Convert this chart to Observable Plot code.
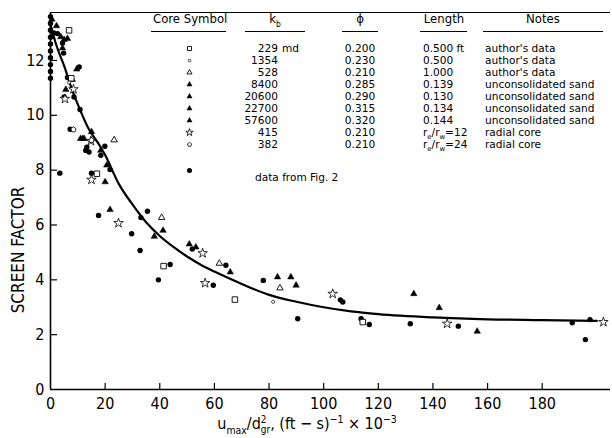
<!DOCTYPE html>
<html><head><meta charset="utf-8">
<script src="https://cdn.jsdelivr.net/npm/d3@7"></script>
<script src="https://cdn.jsdelivr.net/npm/@observablehq/plot@0.6"></script>
<style>
body{margin:0;background:#fff;}
#wrap{position:relative;width:612px;height:438px;font-family:"Liberation Sans Narrow","DejaVu Sans Condensed","Liberation Sans",sans-serif;color:#000;}
#wrap svg{position:absolute;left:0;top:0;}
.t{position:absolute;white-space:nowrap;line-height:1;}
.hd{font-size:13px;}
.col{position:absolute;white-space:nowrap;font-size:10.4px;line-height:12px;transform:scaleX(1.13);transform-origin:left top;}
.ul{position:absolute;height:0;border-top:1.3px solid #000;}
sub,sup{font-size:65%;line-height:0;}
.stk{display:inline-block;vertical-align:middle;line-height:1;font-size:62%;text-align:left;}
</style></head><body><div id="wrap"></div>
<script>
// ---------- axes ----------
const xDomain = [0, 205];
const yDomain = [0, 13.75];
const xTicks = [0, 20, 40, 60, 80, 100, 120, 140, 160, 180];
const yTicks = [0, 2, 4, 6, 8, 10, 12];

// ---------- fitted curve ----------
const curveX = [0, 2, 5, 8, 10, 14, 18, 20, 25, 30, 35, 40, 45, 50, 55, 60, 70, 80, 90, 100, 110, 120, 140, 160, 180, 200];
const curveY = [13.3, 12.6, 11.8, 10.9, 10.4, 9.5, 8.9, 8.55, 7.5, 6.75, 6.1, 5.6, 5.2, 4.85, 4.55, 4.3, 3.85, 3.45, 3.2, 3.0, 2.85, 2.75, 2.63, 2.56, 2.53, 2.5];

// ---------- data points by core ----------
const sq229X = [6.8, 7.6, 17, 41.4, 67.5, 114.3];
const sq229Y = [13.1, 11.35, 7.87, 4.5, 3.28, 2.46];
const c1354X = [6.8, 81.5];
const c1354Y = [11.2, 3.2];
const tri528X = [23.3, 40.7, 61.8, 84];
const tri528Y = [9.1, 6.27, 4.6, 3.7];
const sandX = [0.5, 2.2, 3.8, 5, 6.2, 4.4, 9.6, 5.6, 8, 11, 11.8, 12.3, 15, 18.4, 20.6, 20, 21.8, 41.2, 38, 50.8, 53.2, 65.8, 83.1, 88, 89.9, 133, 142.3, 156.2];
const sandY = [13.5, 13.26, 12.86, 12.76, 12.8, 12.45, 11.68, 10.94, 11.3, 9.15, 9.15, 9.15, 9.4, 8.72, 8.18, 7.57, 6.56, 5.8, 5.58, 5.3, 5.19, 4.28, 4.1, 4.1, 3.8, 3.49, 2.98, 2.12];
const star415X = [5.3, 8.4, 14.8, 15, 24.9, 55.7, 56.6, 103.3, 145.2, 202.4];
const star415Y = [10.6, 10.95, 9.06, 7.65, 6.07, 4.97, 3.88, 3.49, 2.4, 2.46];
const r382X = [8.4, 15];
const r382Y = [9.48, 9.09];
const fig2X = [0, 0, 0, 0, 0, 0, 0, 0, 0, 0, 1.2, 2.6, 4.4, 4.8, 10.5, 6.2, 5, 8.6, 10.8, 7.2, 13.3, 19.9, 12.9, 14.1, 18.4, 21.8, 3.4, 15, 17.6, 35.5, 33.1, 29.7, 32.8, 51.9, 64.2, 43.8, 39.5, 59.6, 77.9, 90.5, 106.1, 107, 113.7, 116.7, 131.7, 149.3, 191, 195.8, 197.5];
const fig2Y = [13.6, 13.35, 13.1, 12.85, 12.6, 12.35, 12.1, 11.85, 11.6, 11.35, 13.0, 12.98, 12.64, 12.27, 11.76, 11.38, 10.67, 10.67, 10.21, 9.49, 8.84, 8.87, 8.72, 8.66, 8.54, 8.02, 7.89, 7.89, 6.35, 6.5, 6.27, 5.68, 5.07, 5.12, 4.53, 4.56, 4.0, 3.8, 3.98, 2.58, 3.27, 3.19, 2.58, 2.37, 2.4, 2.31, 2.43, 1.82, 2.55];

// ---------- table ----------
const kbVals = ["229", "1354", "528", "8400", "20600", "22700", "57600", "415", "382"];
const phiVals = ["0.200", "0.230", "0.210", "0.285", "0.290", "0.315", "0.320", "0.210", "0.210"];
const lengthVals = ["0.500 ft", "0.500", "1.000", "0.139", "0.130", "0.134", "0.144", "r<sub>e</sub>/r<sub>w</sub>=12", "r<sub>e</sub>/r<sub>w</sub>=24"];
const notesVals = ["author's data", "author's data", "author's data", "unconsolidated sand", "unconsolidated sand", "unconsolidated sand", "unconsolidated sand", "radial core", "radial core"];
const symbolKeys = ["sq", "c1354", "triOpen", "tri", "tri", "tri", "tri", "star", "pent"];

// ---------- layout ----------
const W = 612, H = 438, mL = 50, mR = 2, mT = 12, mB = 49;
const plotW = W - mL - mR, plotH = H - mT - mB;
const rowTop = 48, rowStep = 12.0;
const symColX = 189;
const fig2LegY = 170;
const FONT = '"Liberation Sans Narrow","DejaVu Sans Condensed","Liberation Sans",sans-serif';

const pentagon = {
  draw(ctx, size) {
    const r = Math.sqrt(size / 2.3776);
    for (let i = 0; i < 5; i++) {
      const a = -Math.PI / 2 + i * 2 * Math.PI / 5;
      const px = r * Math.cos(a), py = r * Math.sin(a);
      i ? ctx.lineTo(px, py) : ctx.moveTo(px, py);
    }
    ctx.closePath();
  }
};

const styles = {
  sq: {symbol: "square", fill: "white", stroke: "black", strokeWidth: 0.9},
  c1354: {symbol: "circle", fill: "white", stroke: "black", strokeWidth: 0.7},
  triOpen: {symbol: "triangle", fill: "white", stroke: "black", strokeWidth: 0.9},
  tri: {symbol: "triangle", fill: "black", stroke: "black", strokeWidth: 0.5},
  star: {symbol: "star", fill: "white", stroke: "black", strokeWidth: 0.8},
  pent: {symbol: pentagon, fill: "white", stroke: "black", strokeWidth: 0.8},
  fig2: {symbol: "circle", fill: "black", stroke: "none"}
};
const dataR = {sq: 3.1, c1354: 1.6, triOpen: 2.4, tri: 2.4, star: 3.0, pent: 2.4, fig2: 2.7};
const legR = {sq: 2.3, c1354: 1.3, triOpen: 1.9, tri: 1.9, star: 2.3, pent: 1.9, fig2: 2.5};

const pts = (xs, ys) => xs.map((x, i) => ({x, y: ys[i]}));
const curve = pts(curveX, curveY);

const legendMarks = symbolKeys.map((k, i) =>
  Plot.dot([0], {frameAnchor: "top-left", dx: symColX - mL, dy: rowTop + i * rowStep - mT, r: legR[k], ...styles[k]}));
legendMarks.push(Plot.dot([0], {frameAnchor: "top-left", dx: symColX - mL, dy: fig2LegY - mT, r: legR.fig2, ...styles.fig2}));

const chart = Plot.plot({
  width: W, height: H, marginLeft: mL, marginRight: mR, marginTop: mT, marginBottom: mB,
  style: {fontFamily: FONT, fontSize: "16px", background: "transparent", overflow: "visible"},
  x: {domain: xDomain, axis: null},
  y: {domain: yDomain, axis: null},
  marks: [
    Plot.ruleY([yDomain[1]], {strokeWidth: 1.2}),
    Plot.ruleX([0], {strokeWidth: 1.6}),
    Plot.ruleY([0], {strokeWidth: 1.6}),
    Plot.tickX(xTicks.filter(d => d > 0), {x: d => d, insetTop: plotH - 6, strokeWidth: 1.2}),
    Plot.tickY(yTicks.filter(d => d > 0), {y: d => d, insetRight: plotW - 7, strokeWidth: 1.2}),
    Plot.axisX(xTicks, {tickSize: 0, tickPadding: 8, fontSize: 16, label: null}),
    Plot.axisY(yTicks, {tickSize: 0, tickPadding: 6, fontSize: 16, label: null}),
    Plot.line(curve, {x: "x", y: "y", curve: "monotone-x", strokeWidth: 2.2}),
    Plot.dot(pts(fig2X, fig2Y), {x: "x", y: "y", r: dataR.fig2, ...styles.fig2}),
    Plot.dot(pts(sandX, sandY), {x: "x", y: "y", r: dataR.tri, ...styles.tri}),
    Plot.dot(pts(sq229X, sq229Y), {x: "x", y: "y", r: dataR.sq, ...styles.sq}),
    Plot.dot(pts(c1354X, c1354Y), {x: "x", y: "y", r: dataR.c1354, ...styles.c1354}),
    Plot.dot(pts(tri528X, tri528Y), {x: "x", y: "y", r: dataR.triOpen, ...styles.triOpen}),
    Plot.dot(pts(star415X, star415Y), {x: "x", y: "y", r: dataR.star, ...styles.star}),
    Plot.dot(pts(r382X, r382Y), {x: "x", y: "y", r: dataR.pent, ...styles.pent}),
    ...legendMarks
  ]
});

const wrap = document.getElementById("wrap");
wrap.appendChild(chart);

function addText(html, cls, left, top, extra = "") {
  const d = document.createElement("div");
  d.className = cls;
  d.innerHTML = html;
  d.style.cssText += `left:${left}px;top:${top}px;${extra}`;
  wrap.appendChild(d);
  return d;
}
function addLine(x1, x2, y) {
  const d = document.createElement("div");
  d.className = "ul";
  d.style.cssText += `left:${x1}px;width:${x2 - x1}px;top:${y}px;`;
  wrap.appendChild(d);
}

// headers
const hdTop = 12;
addText("Core Symbol", "t hd", 153, hdTop);
addText("k<sub>b</sub>", "t hd", 245, hdTop, "width:60px;text-align:center;");
addText("ϕ", "t hd", 340, hdTop, "width:40px;text-align:center;");
addText("Length", "t hd", 420, hdTop, "width:48px;text-align:center;");
addText("Notes", "t hd", 483, hdTop, "width:120px;text-align:center;");
addLine(151, 226, 31); addLine(245, 305, 31); addLine(342, 378, 31); addLine(420, 467, 31); addLine(483, 603, 31);

// columns (one multi-line block each)
const colTop = rowTop - 6;
addText(kbVals.join("<br>"), "col", 238, colTop, "width:40px;text-align:right;transform-origin:right top;");
addText("md", "col", 282, colTop);
addText(phiVals.join("<br>"), "col", 335, colTop, "width:50px;text-align:center;transform-origin:center top;");
addText(lengthVals.join("<br>"), "col", 423, colTop);
addText(notesVals.join("<br>"), "col", 485, colTop);
addText("data from Fig. 2", "col", 255, fig2LegY + 1);

// axis titles
addText("SCREEN FACTOR", "t", 18, 250, "font-size:17px;transform:translate(-50%,-50%) rotate(-90deg);");
addText('u<sub>max</sub>/d<span class="stk">2<br>gr</span>, (ft − s)<sup>−1</sup> × 10<sup>−3</sup>', "t", 217, 415, "font-size:16px;width:180px;text-align:center;");
</script></body></html>
